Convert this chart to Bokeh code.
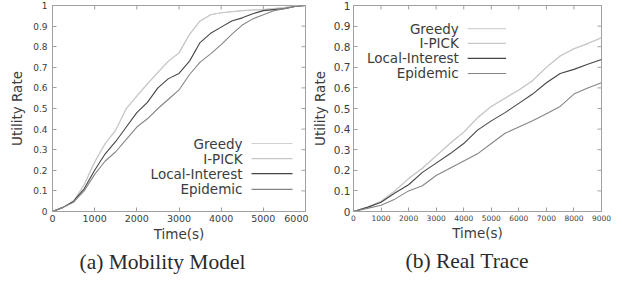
from bokeh.plotting import figure
from bokeh.models import FixedTicker, Title, Range1d, ColumnDataSource
from bokeh.layouts import row
from bokeh.embed import file_html
from bokeh.resources import INLINE
from bokeh.core.properties import value

SERIES = ["Greedy", "I-PICK", "Local-Interest", "Epidemic"]
COLORS = ["#d2d2d2", "#c8c8c8", "#454545", "#858585"]

Y_TICKS = [0, 0.1, 0.2, 0.3, 0.4, 0.5, 0.6, 0.7, 0.8, 0.9, 1.0]
Y_TICK_LABELS = ["0", "0.1", "0.2", "0.3", "0.4", "0.5", "0.6", "0.7", "0.8", "0.9", "1"]

# (a) Mobility Model
MOB_TIME = [0, 250, 500, 750, 1000, 1250, 1500, 1750, 2000, 2250, 2500, 2750, 3000,
            3250, 3500, 3750, 4000, 4250, 4500, 4750, 5000, 5250, 5500, 5750, 6000]
MOB_GREEDY = [0, 0.02, 0.05, 0.13, 0.24, 0.33, 0.395, 0.50, 0.56, 0.62, 0.675, 0.73, 0.77,
              0.86, 0.925, 0.955, 0.965, 0.97, 0.975, 0.978, 0.98, 0.985, 0.99, 0.997, 1.0]
MOB_IPICK = [0, 0.02, 0.05, 0.13, 0.24, 0.33, 0.395, 0.50, 0.56, 0.62, 0.675, 0.73, 0.77,
             0.86, 0.925, 0.955, 0.965, 0.97, 0.975, 0.978, 0.98, 0.985, 0.99, 0.997, 1.0]
MOB_LOCAL = [0, 0.02, 0.05, 0.11, 0.20, 0.28, 0.34, 0.41, 0.48, 0.53, 0.60, 0.645, 0.67,
             0.73, 0.82, 0.865, 0.895, 0.925, 0.94, 0.96, 0.975, 0.98, 0.985, 0.995, 1.0]
MOB_EPIDEMIC = [0, 0.02, 0.045, 0.10, 0.18, 0.245, 0.29, 0.35, 0.41, 0.45, 0.50, 0.545, 0.59,
                0.665, 0.725, 0.765, 0.81, 0.86, 0.905, 0.935, 0.955, 0.975, 0.985, 0.995, 1.0]
MOB_X_TICKS = [0, 1000, 2000, 3000, 4000, 5000, 6000]

# (b) Real Trace
REAL_TIME = [0, 500, 1000, 1500, 2000, 2500, 3000, 3500, 4000, 4500, 5000, 5500, 6000,
             6500, 7000, 7500, 8000, 8500, 9000]
REAL_GREEDY = [0, 0.02, 0.05, 0.10, 0.16, 0.21, 0.27, 0.33, 0.385, 0.455, 0.51, 0.55, 0.59,
               0.635, 0.70, 0.755, 0.79, 0.815, 0.843]
REAL_IPICK = [0, 0.02, 0.05, 0.10, 0.16, 0.21, 0.27, 0.33, 0.385, 0.455, 0.51, 0.55, 0.59,
              0.635, 0.70, 0.755, 0.79, 0.815, 0.843]
REAL_LOCAL = [0, 0.02, 0.045, 0.09, 0.13, 0.19, 0.235, 0.28, 0.33, 0.395, 0.44, 0.48, 0.525,
              0.57, 0.625, 0.67, 0.69, 0.715, 0.738]
REAL_EPIDEMIC = [0, 0.015, 0.03, 0.06, 0.10, 0.125, 0.175, 0.21, 0.245, 0.28, 0.33, 0.38, 0.41,
                 0.44, 0.475, 0.51, 0.57, 0.60, 0.625]
REAL_X_TICKS = [0, 1000, 2000, 3000, 4000, 5000, 6000, 7000, 8000, 9000]

CAPTIONS = ["(a) Mobility Model", "(b) Real Trace"]

AXIS_GREY = "#a0a0a0"
TEXT = "#3c3c3c"
FONT = "DejaVu Sans"
HEIGHT = 284
BORDER_TOP = 5
BORDER_BOTTOM = 73
TICK_PX = 4


def make_plot(times, series_vals, xmax, xticks, caption, border_left, frame_w, border_right,
              xtick_size, ytick_size, ytick_standoff, ylabel_standoff, legend_pos, caption_offset):
    frame_h = HEIGHT - BORDER_TOP - BORDER_BOTTOM
    p = figure(width=border_left + frame_w + border_right, height=HEIGHT,
               x_range=Range1d(0, xmax), y_range=Range1d(0, 1),
               output_backend="svg", toolbar_location=None,
               min_border_left=border_left, min_border_right=border_right,
               min_border_top=BORDER_TOP, min_border_bottom=BORDER_BOTTOM,
               outline_line_color=AXIS_GREY, background_fill_color="white",
               border_fill_color="white")
    p.grid.visible = False

    for vals, name, color in zip(series_vals, SERIES, COLORS):
        p.line(times, vals, line_color=color, line_width=1.1)

    # mirrored inward ticks on top and right edges
    dy = TICK_PX / frame_h
    dx = TICK_PX / frame_w * xmax
    p.segment(x0=xticks, y0=[1] * len(xticks), x1=xticks, y1=[1 - dy] * len(xticks),
              line_color=AXIS_GREY, line_width=1)
    p.segment(x0=[xmax] * len(Y_TICKS), y0=Y_TICKS, x1=[xmax - dx] * len(Y_TICKS), y1=Y_TICKS,
              line_color=AXIS_GREY, line_width=1)

    # legend: text on the left, sample line on the right (gnuplot style)
    tx, lx0, lx1, ys = legend_pos
    src = ColumnDataSource(dict(x=[tx] * 4, y=ys, t=SERIES,
                                x0=[lx0] * 4, x1=[lx1] * 4, c=COLORS))
    p.text(x="x", y="y", text="t", source=src, text_align="right", text_baseline="middle",
           text_font=value(FONT), text_font_size="13.5px", text_color=TEXT)
    p.segment(x0="x0", y0="y", x1="x1", y1="y", line_color="c", line_width=1.2, source=src)

    xa = p.xaxis[0]
    xa.ticker = FixedTicker(ticks=xticks)
    xa.axis_label = "Time(s)"
    ya = p.yaxis[0]
    ya.ticker = FixedTicker(ticks=Y_TICKS)
    ya.major_label_overrides = {t: l for t, l in zip(Y_TICKS, Y_TICK_LABELS)}
    ya.axis_label = "Utility Rate"

    for ax, size in ((xa, xtick_size), (ya, ytick_size)):
        ax.axis_line_color = AXIS_GREY
        ax.major_tick_line_color = AXIS_GREY
        ax.major_tick_in = TICK_PX
        ax.major_tick_out = 0
        ax.minor_tick_line_color = None
        ax.major_label_text_font = FONT
        ax.major_label_text_font_size = size
        ax.major_label_text_color = TEXT
        ax.axis_label_text_font = FONT
        ax.axis_label_text_font_size = "13.5px"
        ax.axis_label_text_font_style = "normal"
        ax.axis_label_text_color = TEXT
    xa.major_label_standoff = 3
    xa.axis_label_standoff = 1
    ya.major_label_standoff = ytick_standoff
    ya.axis_label_standoff = ylabel_standoff

    t = Title(text=caption, align="left", offset=caption_offset, standoff=6,
              text_font="Liberation Serif", text_font_size="21.5px",
              text_font_style="normal", text_color="#2a2a2a")
    p.add_layout(t, "below")
    return p


p1 = make_plot(MOB_TIME, [MOB_GREEDY, MOB_IPICK, MOB_LOCAL, MOB_EPIDEMIC], 6000, MOB_X_TICKS,
               CAPTIONS[0], 52, 253, 3, "9.5px", "9px", 5, 5,
               (4506, 4720, 5692, [0.330, 0.257, 0.184, 0.107]), 27)
p2 = make_plot(REAL_TIME, [REAL_GREEDY, REAL_IPICK, REAL_LOCAL, REAL_EPIDEMIC], 9000, REAL_X_TICKS,
               CAPTIONS[1], 41, 252, 11, "7.5px", "10.5px", 3, 3,
               (3821, 4143, 5536, [0.888, 0.816, 0.743, 0.670]), 52)

layout = row(p1, p2)
open("out.html", "w").write(file_html(layout, INLINE))
